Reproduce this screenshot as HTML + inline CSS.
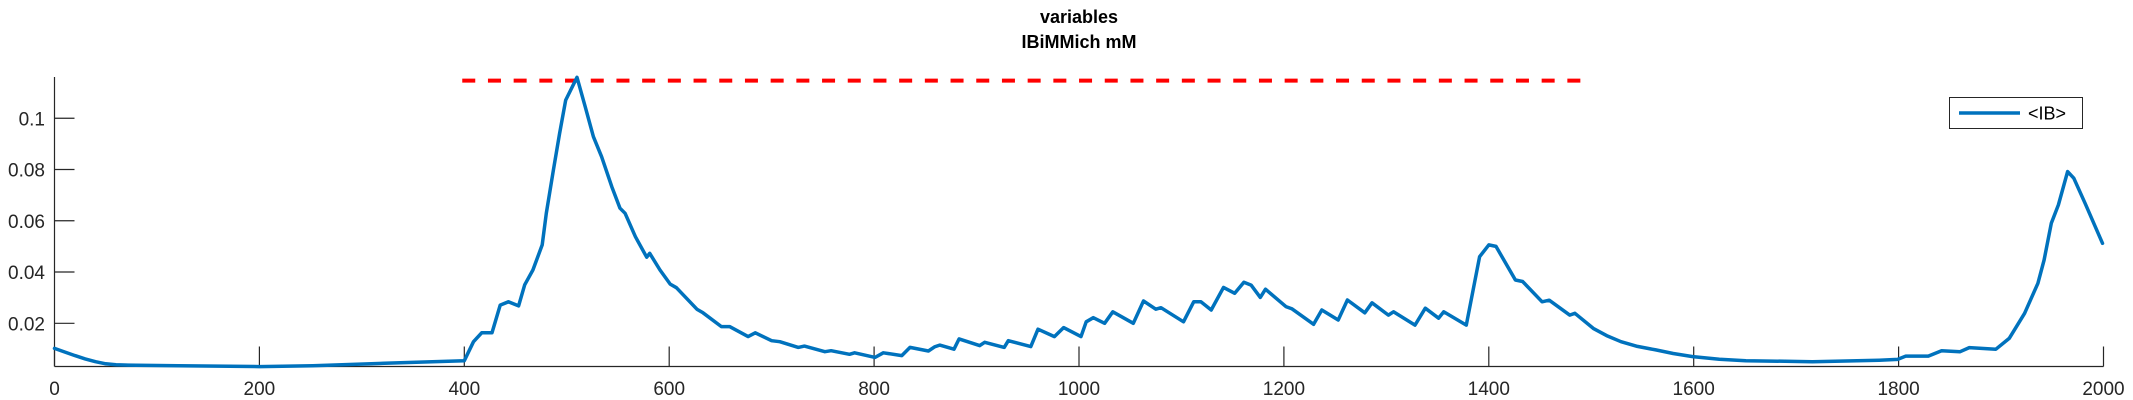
<!DOCTYPE html>
<html><head><meta charset="utf-8"><style>
html,body{margin:0;padding:0;background:#fff;}
svg{display:block;font-family:"Liberation Sans",Arial,sans-serif;}
</style></head><body>
<svg id="chart" width="2133" height="400" viewBox="0 0 2133 400" xmlns="http://www.w3.org/2000/svg">
<text x="1079" y="23" text-anchor="middle" font-size="18" font-weight="bold" fill="#000">variables</text>
<text x="1079" y="48" text-anchor="middle" font-size="18" font-weight="bold" fill="#000">IBiMMich mM</text>
<g id="axes"></g>
<g id="marks"></g>
<g>
<rect x="1949.5" y="97.5" width="133" height="31" fill="#fff" stroke="#262626" stroke-width="1"/>
<line x1="1959" y1="113" x2="2020" y2="113" stroke="#0072BD" stroke-width="3.5"/>
<text x="2028" y="119.5" font-size="18" fill="#000">&lt;IB&gt;</text>
</g>
</svg>
<script>
const xs = [0,10,20,30,40,50,60,80,121,200,252,322,400,409,417,427,435,443,453,459,467,476,480,487,493,499,510,518,526,534,544,552,557,567,578,581,591,601,607,627,633,651,659,677,684,700,708,726,732,752,758,776,781,801,809,827,835,853,859,864,878,883,903,908,927,931,953,960,976,985,1002,1007,1014,1025,1033,1053,1063,1075,1080,1102,1112,1119,1129,1141,1152,1161,1168,1177,1182,1202,1208,1229,1237,1253,1262,1279,1286,1302,1307,1328,1338,1351,1356,1378,1391,1400,1407,1426,1433,1452,1459,1479,1484,1502,1515,1529,1545,1563,1580,1599,1625,1651,1716,1781,1799,1807,1829,1842,1860,1869,1895,1908,1923,1936,1942,1949,1956,1965,1971,1982,1999];
const ys = [0.0102,0.0088,0.0074,0.0061,0.0050,0.0042,0.0038,0.0036,0.0034,0.0031,0.0034,0.0044,0.0054,0.0128,0.0163,0.0163,0.0271,0.0284,0.0268,0.0350,0.0408,0.0506,0.0629,0.0798,0.0941,0.1071,0.1160,0.1045,0.0928,0.0850,0.0733,0.0649,0.0629,0.0538,0.0458,0.0473,0.0408,0.0353,0.0339,0.0255,0.0241,0.0187,0.0187,0.0148,0.0163,0.0132,0.0128,0.0106,0.0111,0.0089,0.0093,0.0079,0.0085,0.0067,0.0085,0.0074,0.0106,0.0092,0.0108,0.0115,0.0099,0.0139,0.0113,0.0126,0.0106,0.0132,0.0109,0.0177,0.0148,0.0183,0.0148,0.0206,0.0222,0.0200,0.0245,0.0200,0.0287,0.0255,0.0261,0.0206,0.0284,0.0284,0.0252,0.0340,0.0317,0.0360,0.0349,0.0301,0.0333,0.0265,0.0256,0.0196,0.0252,0.0213,0.0291,0.0241,0.0280,0.0232,0.0245,0.0193,0.0259,0.0220,0.0245,0.0193,0.0460,0.0506,0.0500,0.0369,0.0363,0.0284,0.0290,0.0232,0.0239,0.0180,0.0152,0.0128,0.0110,0.0096,0.0082,0.0070,0.0060,0.0054,0.0050,0.0056,0.0059,0.0072,0.0072,0.0093,0.0089,0.0105,0.0099,0.0141,0.0239,0.0356,0.0447,0.0590,0.0662,0.0792,0.0766,0.0668,0.0512];
const xTicks = [0,200,400,600,800,1000,1200,1400,1600,1800,2000];
const yTicks = [0.02,0.04,0.06,0.08,0.1];
const yTickLabels = ["0.02","0.04","0.06","0.08","0.1"];
const refX = [398,1490];
const refY = 0.1147;

const X0=54.5, X1=2103.5, XMIN=0, XMAX=2000;
const YB=366.5, YT=77, YMIN=0.00314, YMAX=0.1161;
function sx(v){return X0+(v-XMIN)/(XMAX-XMIN)*(X1-X0);}
function sy(v){return YB-(v-YMIN)/(YMAX-YMIN)*(YB-YT);}
const NS="http://www.w3.org/2000/svg";
const axes=document.getElementById('axes');
const marks=document.getElementById('marks');
function mk(tag,attrs,parent){const e=document.createElementNS(NS,tag);for(const k in attrs)e.setAttribute(k,attrs[k]);parent.appendChild(e);return e;}

const yAxis=mk('line',{x1:X0,y1:YT,x2:X0,y2:YB,stroke:'#262626','stroke-width':1.2},axes);


const xAxis=mk('line',{x1:X0,y1:YB,x2:X1,y2:YB,stroke:'#262626','stroke-width':1.2},axes);



xTicks.forEach(t=>{
  const x=sx(t);
  const tk=mk('line',{x1:x,y1:YB,x2:x,y2:YB-20,stroke:'#262626','stroke-width':1.2},axes);
  
  
  const lb=mk('text',{x:x,y:395,'text-anchor':'middle','font-size':19,fill:'#262626'},axes);
  lb.textContent=String(t);
  
  
});
yTicks.forEach((t,i)=>{
  const y=sy(t);
  const tk=mk('line',{x1:X0,y1:y,x2:X0+20,y2:y,stroke:'#262626','stroke-width':1.2},axes);
  
  
  const lb=mk('text',{x:45,y:y+7,'text-anchor':'end','font-size':19,fill:'#262626'},axes);
  lb.textContent=yTickLabels[i];
  
  
});

const ref=mk('line',{x1:sx(refX[0]),y1:sy(refY),x2:sx(refX[1]),y2:sy(refY),stroke:'#FF0000','stroke-width':4,'stroke-dasharray':'13 12.7'},marks);



let d='';
xs.forEach((v,i)=>{d+=(i?'L':'M')+sx(v).toFixed(1)+' '+sy(ys[i]).toFixed(1)+' ';});
const series=mk('path',{d:d,fill:'none',stroke:'#0072BD','stroke-width':3.5,'stroke-linejoin':'round','stroke-linecap':'round'},marks);


</script>
</body></html>
